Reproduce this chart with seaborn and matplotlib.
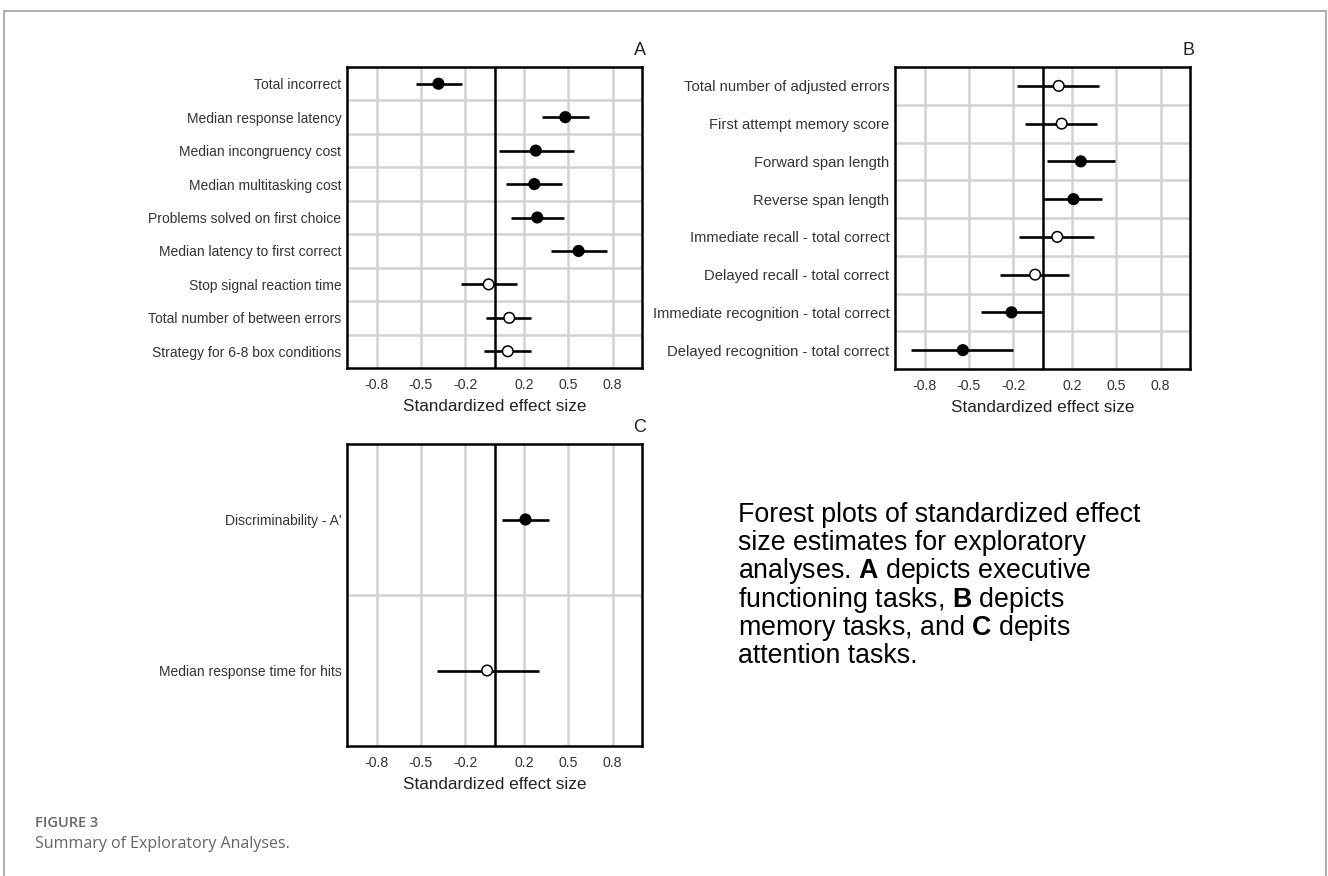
import numpy as np
import pandas as pd
import seaborn as sns
import matplotlib.pyplot as plt
from matplotlib.lines import Line2D

# panel A - executive functioning
tasks_a = ["Total incorrect", "Median response latency", "Median incongruency cost",
           "Median multitasking cost", "Problems solved on first choice",
           "Median latency to first correct", "Stop signal reaction time",
           "Total number of between errors", "Strategy for 6-8 box conditions"]
est_a = [-0.38, 0.48, 0.28, 0.27, 0.29, 0.57, -0.04, 0.10, 0.09]
lo_a = [-0.53, 0.32, 0.03, 0.08, 0.11, 0.38, -0.23, -0.06, -0.07]
hi_a = [-0.22, 0.64, 0.54, 0.46, 0.47, 0.76, 0.15, 0.25, 0.25]
sig_a = [True, True, True, True, True, True, False, False, False]

# panel B - memory
tasks_b = ["Total number of adjusted errors", "First attempt memory score",
           "Forward span length", "Reverse span length",
           "Immediate recall - total correct", "Delayed recall - total correct",
           "Immediate recognition - total correct", "Delayed recognition - total correct"]
est_b = [0.11, 0.13, 0.26, 0.21, 0.10, -0.05, -0.21, -0.54]
lo_b = [-0.17, -0.12, 0.03, 0.00, -0.16, -0.29, -0.42, -0.89]
hi_b = [0.38, 0.37, 0.49, 0.40, 0.35, 0.18, 0.00, -0.20]
sig_b = [False, False, True, True, False, False, True, True]

# panel C - attention
tasks_c = ["Discriminability - A'", "Median response time for hits"]
est_c = [0.21, -0.05]
lo_c = [0.05, -0.39]
hi_c = [0.37, 0.30]
sig_c = [True, False]

ticks = [-0.8, -0.5, -0.2, 0.2, 0.5, 0.8]

sns.set_theme(style="white")
plt.rcParams["font.family"] = ["Liberation Sans", "DejaVu Sans"]
plt.rcParams["mathtext.fontset"] = "custom"
plt.rcParams["mathtext.rm"] = "Liberation Sans"
plt.rcParams["mathtext.bf"] = "Liberation Sans:bold"

fig = plt.figure(figsize=(13.28, 8.76), dpi=100)

W, H = 1328, 876


def box(x0, y0, x1, y1):
    return [x0 / W, 1 - y1 / H, (x1 - x0) / W, (y1 - y0) / H]


def forest(ax, tasks, est, lo, hi, sig, letter, lab_size):
    df = pd.DataFrame({"task": tasks, "est": est, "lo": lo, "hi": hi, "sig": sig})
    df["pos"] = np.arange(len(df))
    n = len(df)
    ax.set_xlim(-1, 1)
    ax.set_ylim(n - 0.5, -0.5)
    ax.set_xticks(ticks)
    ax.set_xticklabels([f"{t:.1f}" for t in ticks])
    ax.set_yticks(df["pos"])
    ax.set_yticklabels(df["task"])
    ax.set_yticks(np.arange(n - 1) + 0.5, minor=True)
    ax.grid(True, axis="x", color="#d3d3d3", lw=1.8, zorder=0)
    ax.grid(True, axis="y", which="minor", color="#d3d3d3", lw=1.8, zorder=0)
    ax.tick_params(which="both", length=0)
    ax.tick_params(axis="x", labelsize=10.2, pad=7, colors="#333333")
    ax.tick_params(axis="y", labelsize=lab_size, pad=4, colors="#333333")
    ax.axvline(0, color="black", lw=1.8, zorder=1)
    ax.hlines(df["pos"], df["lo"], df["hi"], color="black", lw=1.9, zorder=2)
    sns.scatterplot(data=df, x="est", y="pos", hue="sig",
                    palette={True: "black", False: "white"},
                    edgecolor="black", linewidth=1.1, s=58,
                    legend=False, zorder=3, ax=ax)
    ax.set_xlabel("Standardized effect size", fontsize=12.3, color="#222222", labelpad=5)
    ax.set_ylabel("")
    for sp in ax.spines.values():
        sp.set_color("black")
        sp.set_linewidth(1.8)
    ax.text(1.015, 1.025, letter, transform=ax.transAxes, ha="right", va="bottom",
            fontsize=13, color="#222222")


ax_a = fig.add_axes(box(347, 67, 642, 368))
forest(ax_a, tasks_a, est_a, lo_a, hi_a, sig_a, "A", 10.0)
ax_b = fig.add_axes(box(895, 67, 1190, 369))
forest(ax_b, tasks_b, est_b, lo_b, hi_b, sig_b, "B", 10.6)
ax_c = fig.add_axes(box(347, 444, 642, 746))
forest(ax_c, tasks_c, est_c, lo_c, hi_c, sig_c, "C", 10.0)

# description text on the right
lines = ["Forest plots of standardized effect",
         "size estimates for exploratory",
         r"analyses. $\mathbf{A}$ depicts executive",
         r"functioning tasks, $\mathbf{B}$ depicts",
         r"memory tasks, and $\mathbf{C}$ depits",
         "attention tasks."]
for i, ln in enumerate(lines):
    fig.text(738 / W, 1 - (515 + i * 28.2) / H, ln, ha="left", va="center",
             fontsize=19.3, color="black")

# figure caption
fig.text(35 / W, 1 - 823 / H, "FIGURE 3", ha="left", va="center", fontsize=10.5,
         color="#666666", family=["Open Sans", "DejaVu Sans"], fontweight="semibold")
fig.text(35 / W, 1 - 844 / H, "Summary of Exploratory Analyses.", ha="left", va="center",
         fontsize=11.5, color="#666666", family=["Open Sans", "DejaVu Sans"])

# page frame
fc = "#999999"
fig.add_artist(Line2D([4 / W, 1326 / W], [1 - 10.5 / H, 1 - 10.5 / H], color=fc, lw=1.1))
fig.add_artist(Line2D([4 / W, 4 / W], [0, 1 - 10.5 / H], color=fc, lw=1.1))
fig.add_artist(Line2D([1326 / W, 1326 / W], [0, 1 - 10.5 / H], color=fc, lw=1.1))

fig.savefig("out.png", dpi=100)
